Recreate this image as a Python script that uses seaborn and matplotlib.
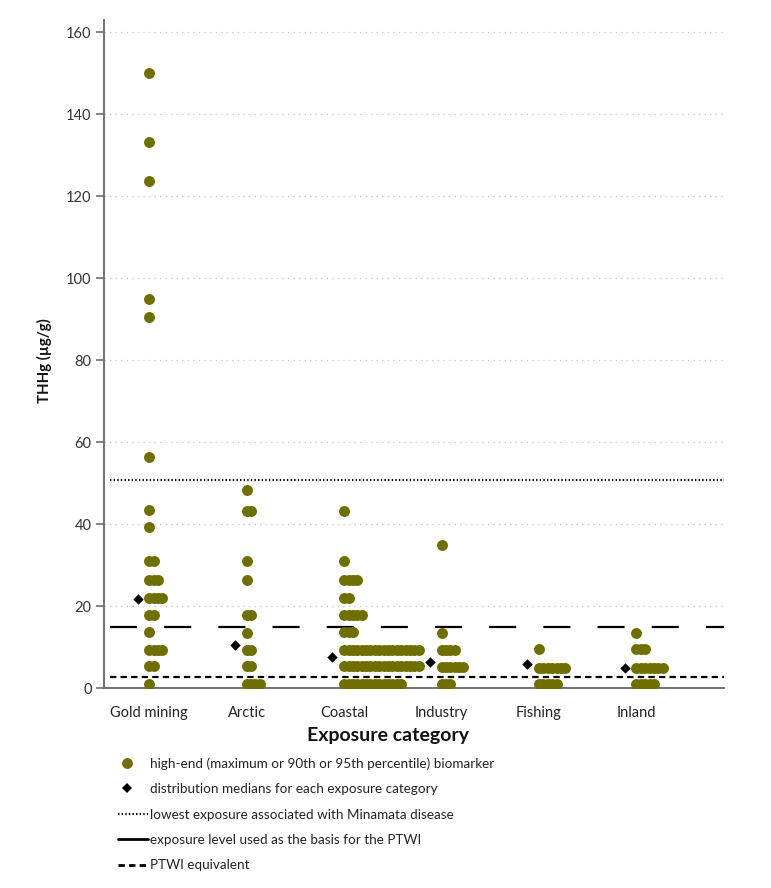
import numpy as np
import pandas as pd
import matplotlib
matplotlib.use("Agg")
import matplotlib.pyplot as plt
import seaborn as sns
from matplotlib.lines import Line2D
from matplotlib.legend_handler import HandlerLine2D

# ---------------- data ----------------
categories = ["Gold mining", "Arctic", "Coastal", "Industry", "Fishing", "Inland"]

gold_levels = [150.0, 133.3, 123.8, 95.0, 90.6, 56.3, 43.4, 39.4, 31.0, 26.4, 22.0, 17.8, 13.7, 9.2, 5.4, 0.9]
gold_counts = [1, 1, 1, 1, 1, 1, 1, 1, 2, 3, 4, 2, 1, 4, 2, 1]
arctic_levels = [48.3, 43.3, 31.0, 26.4, 17.8, 13.4, 9.3, 5.4, 1.1]
arctic_counts = [1, 2, 1, 1, 2, 1, 2, 2, 4]
coastal_levels = [43.3, 31.0, 26.4, 22.0, 17.8, 13.6, 9.2, 5.4, 1.1]
coastal_counts = [1, 1, 4, 2, 5, 3, 18, 18, 14]
industry_levels = [34.9, 13.4, 9.2, 5.1, 1.0]
industry_counts = [1, 1, 4, 6, 3]
fishing_levels = [9.5, 5.0, 0.9]
fishing_counts = [1, 7, 5]
inland_levels = [13.5, 9.4, 5.0, 0.9]
inland_counts = [1, 3, 7, 5]

medians = [21.7, 10.4, 7.6, 6.4, 5.9, 5.0]

minamata_level = 50.7
ptwi_basis_level = 15.0
ptwi_equivalent_level = 2.7

yticks = [0, 20, 40, 60, 80, 100, 120, 140, 160]

legend_labels = [
    "high-end (maximum or 90th or 95th percentile) biomarker",
    "distribution medians for each exposure category",
    "lowest exposure associated with Minamata disease",
    "exposure level used as the basis for the PTWI",
    "PTWI equivalent",
]

# ---------------- build table ----------------
levels_all = [gold_levels, arctic_levels, coastal_levels, industry_levels, fishing_levels, inland_levels]
counts_all = [gold_counts, arctic_counts, coastal_counts, industry_counts, fishing_counts, inland_counts]

STEP = 0.045  # horizontal stacking step (category units)
rows = []
for ci, (lv, ct) in enumerate(zip(levels_all, counts_all)):
    for v, n in zip(lv, ct):
        for k in range(n):
            rows.append({"category": categories[ci], "value": v, "xpos": ci + k * STEP})
df = pd.DataFrame(rows)
med_df = pd.DataFrame({"category": categories, "median": medians,
                       "xpos": np.arange(len(categories)) - 0.12})

# ---------------- style ----------------
sns.set_theme(style="white")
plt.rcParams["font.family"] = ["Lato", "DejaVu Sans"]
plt.rcParams["lines.scale_dashes"] = False

OLIVE = "#6f6f00"
AXC = "#666666"
TICK_FS = 10.2
LEG_FS = 9.7

fig = plt.figure(figsize=(7.71, 8.88), dpi=100)
ax = fig.add_axes([0.135, 0.2252, 0.804, 0.7523])

# reference lines
ax.axhline(minamata_level, xmin=0.01, xmax=1, color="black", lw=1.6, ls=(0, (1.0, 1.6)), zorder=2)
ax.axhline(ptwi_basis_level, xmin=0.01, xmax=1, color="black", lw=1.6, ls=(0, (19.5, 19.5)), zorder=2)
ax.axhline(ptwi_equivalent_level, xmin=0.01, xmax=1, color="black", lw=1.6, ls=(0, (4.6, 3.0)), zorder=2)

sns.scatterplot(data=df, x="xpos", y="value", color=OLIVE, s=62, linewidth=0,
                ax=ax, legend=False, zorder=3)
sns.scatterplot(data=med_df, x="xpos", y="median", color="black", marker="D", s=28,
                linewidth=0, ax=ax, legend=False, zorder=4)

ax.set_xlim(-0.464, 5.899)
ax.set_ylim(0, 163)
ax.set_yticks(yticks)
ax.set_xticks(np.arange(len(categories)))
ax.set_xticklabels(categories, fontsize=TICK_FS + 0.3, color="#222222")
ax.tick_params(axis="x", length=0, pad=13)
ax.tick_params(axis="y", length=5.5, width=1.1, color=AXC, direction="out",
               labelsize=TICK_FS + 0.3, labelcolor="#333333", pad=3.5, left=True)

ax.grid(axis="y", color="#c8c8c8", lw=0.9, ls=(0, (1, 3)))
ax.grid(axis="x", visible=False)
for s in ["top", "right"]:
    ax.spines[s].set_visible(False)
for s in ["left", "bottom"]:
    ax.spines[s].set_color(AXC)
    ax.spines[s].set_linewidth(1.3)

ax.set_ylabel("THHg (µg/g)", fontsize=10.8, fontweight="bold", color="#111111")
ax.yaxis.set_label_coords(-0.084, 0.49)
ax.set_xlabel("Exposure category", fontsize=14, fontweight="bold", color="#111111")
ax.xaxis.set_label_coords(0.458, -0.058)


class LeftMarkerHandler(HandlerLine2D):
    """Marker-only legend entries drawn a little left of the handle centre."""
    def create_artists(self, legend, orig_handle, xdescent, ydescent, width, height,
                       fontsize, trans):
        artists = super().create_artists(legend, orig_handle, xdescent, ydescent,
                                         width, height, fontsize, trans)
        for a in artists:
            a.set_xdata(np.asarray(a.get_xdata(), dtype=float) - 0.2 * width)
        return artists


dot_handle = Line2D([], [], marker="o", color=OLIVE, ls="none", markersize=7.8, markeredgewidth=0)
med_handle = Line2D([], [], marker="D", color="black", ls="none", markersize=5.4, markeredgewidth=0)
handles = [
    dot_handle,
    med_handle,
    Line2D([], [], color="black", lw=1.6, ls=(0, (1.0, 1.6))),
    Line2D([], [], color="black", lw=2.0, ls="-"),
    Line2D([], [], color="black", lw=2.0, ls=(0, (4.6, 3.0))),
]
fig.legend(handles, legend_labels, loc="upper left", bbox_to_anchor=(0.153, 0.1475),
           frameon=False, fontsize=LEG_FS, handlelength=2.2, handletextpad=0.2,
           labelspacing=1.0, borderaxespad=0, borderpad=0, labelcolor="#222222",
           handler_map={dot_handle: LeftMarkerHandler(), med_handle: LeftMarkerHandler()})

fig.savefig("out.png", dpi=100)
